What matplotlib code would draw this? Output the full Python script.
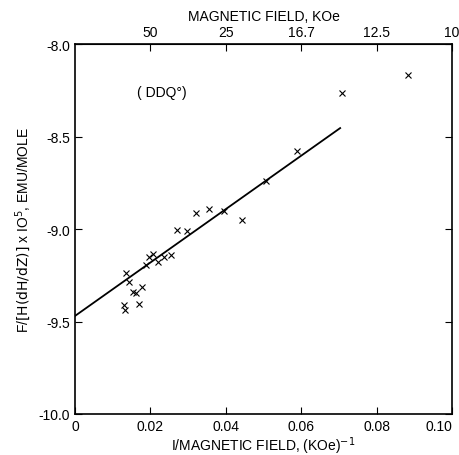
import matplotlib.pyplot as plt
import numpy as np

# data
inv_field = [0.0883, 0.0708, 0.0589, 0.0506, 0.0396, 0.0354, 0.0322, 0.0443,
             0.0271, 0.0296, 0.0197, 0.0208, 0.0221, 0.0236, 0.0254, 0.0187,
             0.0136, 0.0144, 0.0178, 0.0155, 0.0162, 0.0171, 0.0131, 0.0132]
force = [-8.168, -8.265, -8.578, -8.742, -8.903, -8.894, -8.914, -8.95,
         -9.005, -9.009, -9.153, -9.137, -9.177, -9.153, -9.141, -9.195,
         -9.24, -9.285, -9.312, -9.342, -9.348, -9.405, -9.411, -9.436]

fit_x = [0.0, 0.0703]
fit_y = [-9.47, -8.454]

x_ticks = [0, 0.02, 0.04, 0.06, 0.08, 0.10]
x_labels = ["0", "0.02", "0.04", "0.06", "0.08", "0.10"]
y_ticks = [-10.0, -9.5, -9.0, -8.5, -8.0]
y_labels = ["-10.0", "-9.5", "-9.0", "-8.5", "-8.0"]
top_ticks = [0.02, 0.04, 0.06, 0.08, 0.10]
top_labels = ["50", "25", "16.7", "12.5", "10"]

plt.rcParams['font.family'] = ['Liberation Sans', 'DejaVu Sans']

fig = plt.figure(figsize=(4.6, 4.56), dpi=100)
ax = fig.add_axes([0.163, 0.09, 0.82, 0.811])

ax.plot(fit_x, fit_y, color="black", linewidth=1.3)
ax.plot(inv_field, force, linestyle="none", marker="x", markersize=4,
        markeredgewidth=0.8, color="black")

ax.set_xlim(0, 0.10)
ax.set_ylim(-10.0, -8.0)
ax.set_xticks(x_ticks)
ax.set_xticklabels(x_labels, fontsize=10)
ax.get_xticklabels()[-1].set_horizontalalignment("right")
ax.set_yticks(y_ticks)
ax.set_yticklabels(y_labels, fontsize=10)
ax.tick_params(direction="in", length=5, width=0.8, right=True)

top = ax.secondary_xaxis("top")
top.set_xticks(top_ticks)
top.set_xticklabels(top_labels, fontsize=10)
top.tick_params(direction="in", length=5, width=0.8)
top.set_xlabel("MAGNETIC FIELD, KOe", fontsize=10, labelpad=4)

for s in ax.spines.values():
    s.set_linewidth(1.2)

ax.set_xlabel("I/MAGNETIC FIELD, (KOe)$^{-1}$", fontsize=10, labelpad=1)
ax.set_ylabel(r"F/$\left[\mathrm{H(dH/dZ)}\right]$ x IO$^5$, EMU/MOLE", fontsize=10)

ax.text(0.0165, -8.26, "( DDQ°)", fontsize=10, va="center")

plt.savefig("out.png", dpi=100)
